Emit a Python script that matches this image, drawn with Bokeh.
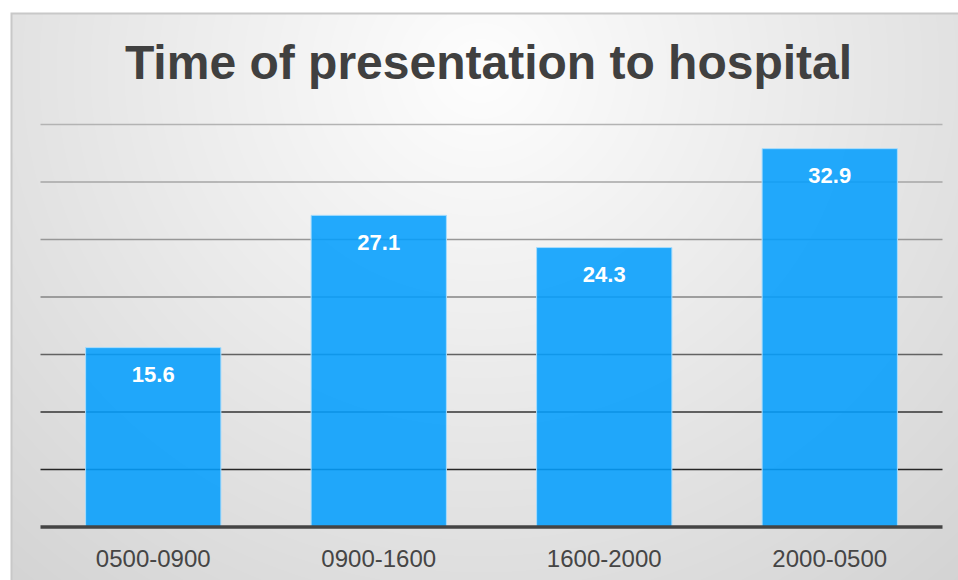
import numpy as np
from bokeh.plotting import figure
from bokeh.models import Range1d, Label
from bokeh.core.properties import value
from bokeh.embed import file_html
from bokeh.resources import INLINE

# ---- data ----
title_text = "Time of presentation to hospital"
categories = ["0500-0900", "0900-1600", "1600-2000", "2000-0500"]
values = [15.6, 27.1, 24.3, 32.9]
grid_ticks = [5, 10, 15, 20, 25, 30, 35]
grid_colors = ["#262626", "#333333", "#626262", "#858585", "#979797", "#a6a6a6", "#b3b3b3"]

# ---- layout geometry (pixels) ----
W, H = 958, 580
PX_X = 225.5          # pixels per category slot
PX_Y = 11.5           # pixels per value unit
LEFT_PX = 40          # left edge of category area
BASE_PX = 526.5       # baseline from top
x_start = -LEFT_PX / PX_X
x_end = x_start + W / PX_X
y_end = BASE_PX / PX_Y
y_start = y_end - H / PX_Y

p = figure(width=W, height=H, title=None,
           x_range=Range1d(x_start, x_end), y_range=Range1d(y_start, y_end),
           output_backend="svg", toolbar_location=None, min_border=0,
           x_axis_location=None, y_axis_location=None,
           outline_line_color=None, background_fill_color="white",
           border_fill_color="white")
p.grid.visible = False

# ---- radial grey background with frame border ----
gx0, gy0 = 10, 12
gw, gh = W - gx0, H - gy0
yy, xx = np.mgrid[0:gh, 0:gw]
sx = xx + gx0
sy = yy + gy0
d = np.sqrt((sx - 480.0) ** 2 + ((sy - 70.0) * 1.05) ** 2)
v = np.clip(254 - 40 * d / 680.0, 200, 255).astype(np.uint8)
img = np.empty((gh, gw), dtype=np.uint32)
view = img.view(dtype=np.uint8).reshape((gh, gw, 4))
view[..., 0] = v
view[..., 1] = v
view[..., 2] = v
view[..., 3] = 255
view[0:2, :, 0:3] = 200
view[:, 0:2, 0:3] = 200
p.image_rgba(image=[np.flipud(img)], x=x_start + gx0 / PX_X, y=y_start,
             dw=gw / PX_X, dh=gh / PX_Y)

n = len(categories)
xs = np.arange(n) + 0.5

# ---- gridlines ----
p.segment(x0=[0] * len(grid_ticks), x1=[n] * len(grid_ticks),
          y0=grid_ticks, y1=grid_ticks, line_color=grid_colors, line_width=1.6)

# ---- bars ----
p.vbar(x=xs, top=values, bottom=0, width=0.6,
       fill_color="#059efd", fill_alpha=0.88,
       line_color="#a8dcfc", line_width=1)

# ---- baseline ----
p.segment(x0=[0], x1=[n], y0=[0], y1=[0], line_color="#444444", line_width=3.5)

# ---- value labels ----
p.text(x=xs, y=values, text=["%.1f" % t for t in values], y_offset=27,
       text_align="center", text_baseline="middle", text_color="white",
       text_font=value("Liberation Sans"), text_font_style="bold",
       text_font_size="22px")

# ---- category labels ----
p.text(x=xs, y=[0] * n, text=categories, y_offset=31,
       text_align="center", text_baseline="middle", text_color="#454545",
       text_font=value("Liberation Sans"), text_font_size="24px")

# ---- title ----
p.add_layout(Label(x=488, y=H - 62, x_units="screen", y_units="screen",
                   text=title_text, text_align="center", text_baseline="alphabetic",
                   text_font="Liberation Sans", text_font_style="bold",
                   text_font_size="48px", text_color="#404040"))

open("out.html", "w").write(file_html(p, INLINE))
